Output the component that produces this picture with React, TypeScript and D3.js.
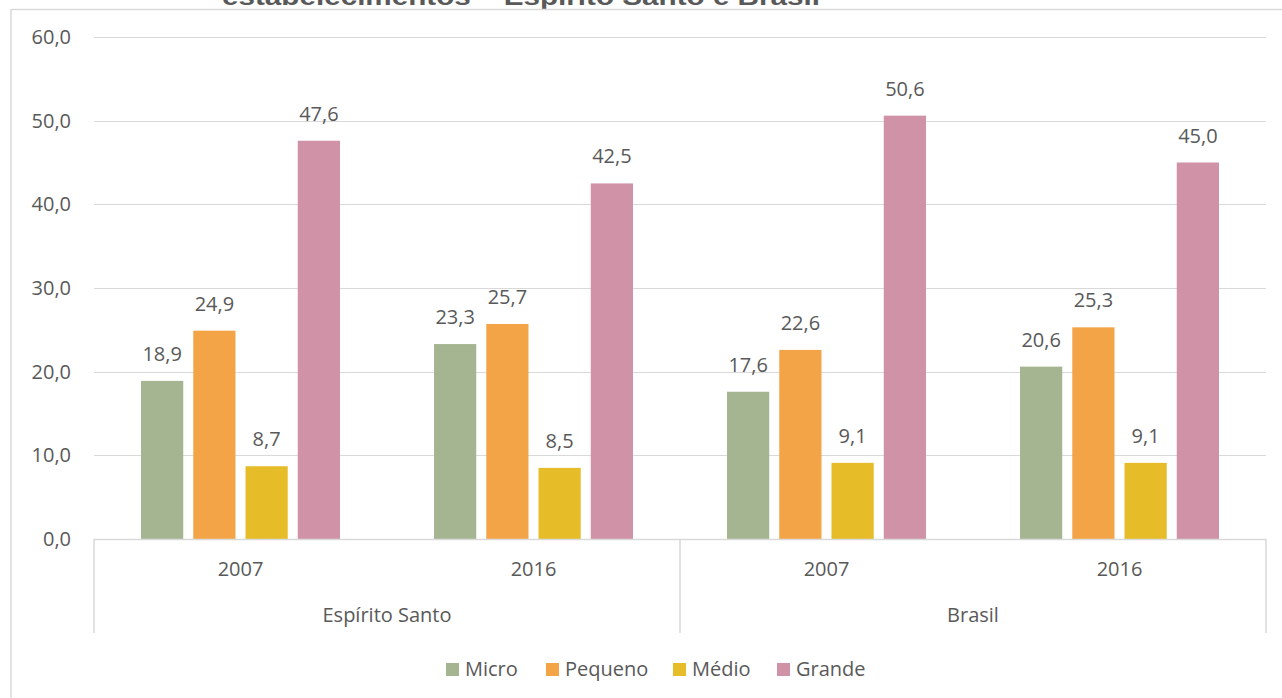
import React from "react";
import * as d3 from "d3";

const groups = ["Espírito Santo", "Brasil"];
const categories = ["Espírito Santo|2007", "Espírito Santo|2016", "Brasil|2007", "Brasil|2016"];
const seriesNames = ["Micro", "Pequeno", "Médio", "Grande"];
const seriesColors = ["#A5B592", "#F3A447", "#E7BC29", "#D092A7"];
const micro = [18.9, 23.3, 17.6, 20.6];
const pequeno = [24.9, 25.7, 22.6, 25.3];
const medio = [8.7, 8.5, 9.1, 9.1];
const grande = [47.6, 42.5, 50.6, 45.0];
const yTicks = [0, 10, 20, 30, 40, 50, 60];
const titleText = "estabelecimentos – Espírito Santo e Brasil";

const W = 1282;
const H = 698;
const plotL = 94;
const plotR = 1266;
const plotT = 37;
const plotB = 539;
const FONT = "'Open Sans', 'Noto Sans', sans-serif";
const TEXT = "#595959";
const GRID = "#D9D9D9";
const FS = 20;

const fmt = (v: number) => v.toFixed(1).replace(".", ",");

export default function App() {
  const values = [micro, pequeno, medio, grande];
  const x0 = d3.scaleBand<string>().domain(categories).range([plotL, plotR]).paddingInner(0).paddingOuter(0);
  const x1 = d3
    .scaleBand<string>()
    .domain(seriesNames)
    .range([0, x0.bandwidth()])
    .paddingInner(0.192)
    .paddingOuter(0.9);
  const y = d3.scaleLinear().domain([0, 60]).range([plotB, plotT]);

  const groupScale = d3.scaleBand<string>().domain(groups).range([plotL, plotR]);

  const legendX = [446, 546, 673, 777];

  return (
    <svg
      width={W}
      height={H}
      style={{ position: "absolute", left: 0, top: 0, background: "#fff" }}
      fontFamily={FONT}
    >
      <rect x={0} y={0} width={W} height={H} fill="#fff" />
      {/* title (cut off at top in the source) */}
      <text
        x={222}
        y={5}
        fontFamily="'Liberation Sans', Arial, sans-serif"
        fontWeight="bold"
        fontSize={24}
        fill={TEXT}
        textLength={598}
        lengthAdjust="spacingAndGlyphs"
      >
        {titleText}
      </text>
      {/* chart border */}
      <line x1={11} x2={W} y1={9.5} y2={9.5} stroke={GRID} strokeWidth={1.5} />
      <line x1={11} x2={11} y1={9} y2={H} stroke={GRID} strokeWidth={1.5} />

      {/* gridlines & y labels */}
      {yTicks.map((t) => (
        <g key={t}>
          {t !== 0 && (
            <line x1={plotL} x2={plotR} y1={Math.round(y(t)) + 0.5} y2={Math.round(y(t)) + 0.5} stroke={GRID} strokeWidth={1} />
          )}
          <text x={71} y={y(t)} dy="0.35em" textAnchor="end" fontSize={FS} fill={TEXT}>
            {fmt(t)}
          </text>
        </g>
      ))}

      {/* bars */}
      {categories.map((c, ci) => (
        <g key={c} transform={`translate(${x0(c)},0)`}>
          {seriesNames.map((s, si) => {
            const v = values[si][ci];
            const bx = x1(s)!;
            return (
              <g key={s}>
                <rect x={bx} y={y(v)} width={x1.bandwidth()} height={plotB - y(v)} fill={seriesColors[si]} />
                <text
                  x={bx + x1.bandwidth() / 2}
                  y={y(v) - 20}
                  textAnchor="middle"
                  fontSize={FS}
                  fill={TEXT}
                >
                  {fmt(v)}
                </text>
              </g>
            );
          })}
        </g>
      ))}

      {/* category axis */}
      <line x1={plotL} x2={plotR} y1={plotB + 0.5} y2={plotB + 0.5} stroke={GRID} strokeWidth={1.5} />
      {[plotL, groupScale("Brasil")!, plotR].map((xv, i) => (
        <line key={i} x1={xv} x2={xv} y1={plotB} y2={633} stroke={GRID} strokeWidth={1.5} />
      ))}
      {categories.map((c) => (
        <text key={c} x={x0(c)! + x0.bandwidth() / 2} y={569} dy="0.35em" textAnchor="middle" fontSize={FS} fill={TEXT}>
          {c.split("|")[1]}
        </text>
      ))}
      {groups.map((g) => (
        <text key={g} x={groupScale(g)! + groupScale.bandwidth() / 2} y={615} dy="0.35em" textAnchor="middle" fontSize={FS} fill={TEXT}>
          {g}
        </text>
      ))}

      {/* legend */}
      {seriesNames.map((s, i) => (
        <g key={s} transform={`translate(${legendX[i]},0)`}>
          <rect x={0} y={663} width={13} height={13} fill={seriesColors[i]} />
          <text x={19} y={669} dy="0.35em" fontSize={FS} fill={TEXT}>
            {s}
          </text>
        </g>
      ))}
    </svg>
  );
}
